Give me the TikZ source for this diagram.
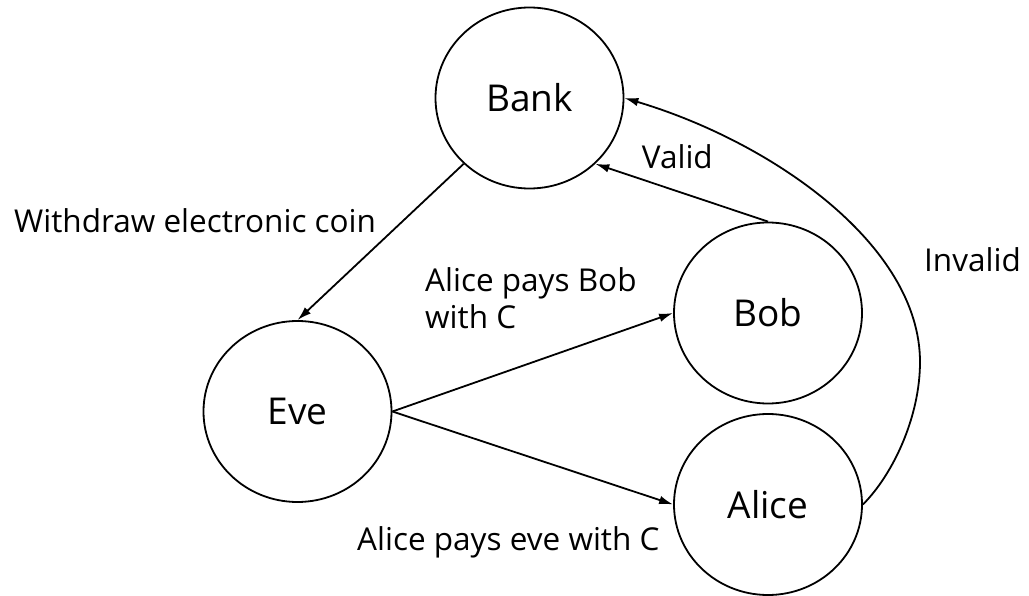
\documentclass[tikz,border=0pt]{standalone}
\usepackage{fontspec}
\setmainfont{Open Sans}
\usetikzlibrary{shapes.geometric,arrows.meta}

\tikzset{
  party/.style={ellipse, draw, line width=1.8pt, minimum width=188pt,
    minimum height=181pt, inner sep=0pt, font=\fontsize{37}{44}\selectfont},
  flow/.style={line width=1.8pt, -{Latex[length=14pt,width=8.5pt]}},
  note/.style={inner sep=0pt, anchor=base west, align=left,
    font=\fontsize{31.5}{36.6}\selectfont}
}

\begin{document}
\begin{tikzpicture}[x=1pt,y=-1pt]
  \useasboundingbox (0,0) rectangle (1029,596);

  % participants
  \node[party] (bank)  at (529.5,98)   {Bank};
  \node[party] (eve)   at (297.5,411.5) {Eve};
  \node[party] (bob)   at (768,313)    {Bob};
  \node[party] (alice) at (768,504.5)  {Alice};

  % transactions
  \draw[flow] (bank.225) -- (eve.north);
  \draw[flow] (eve.east) -- (bob.west);
  \draw[flow] (eve.east) -- (alice.west);
  \draw[flow] (bob.north) -- (bank.-45);
  \draw[flow] (alice.east) .. controls +(30,-30) and (920,417) .. (920,362)
                           .. controls (920,245) and (772,142) .. (bank.east);

  % captions (a multi-line note sits on the baseline of its last line)
  \node[note] (lwithdraw) at (14,232.7)  {Withdraw electronic coin};
  \node[note] (lvalid)    at (641.7,169) {Valid};
  \node[note] (linvalid)  at (924,271.7) {Invalid};
  \node[note] (lpaybob)   at (425,328.3) {Alice pays Bob\\with C};
  \node[note] (lpayeve)   at (357,550)   {Alice pays eve with C};
\end{tikzpicture}
\end{document}
